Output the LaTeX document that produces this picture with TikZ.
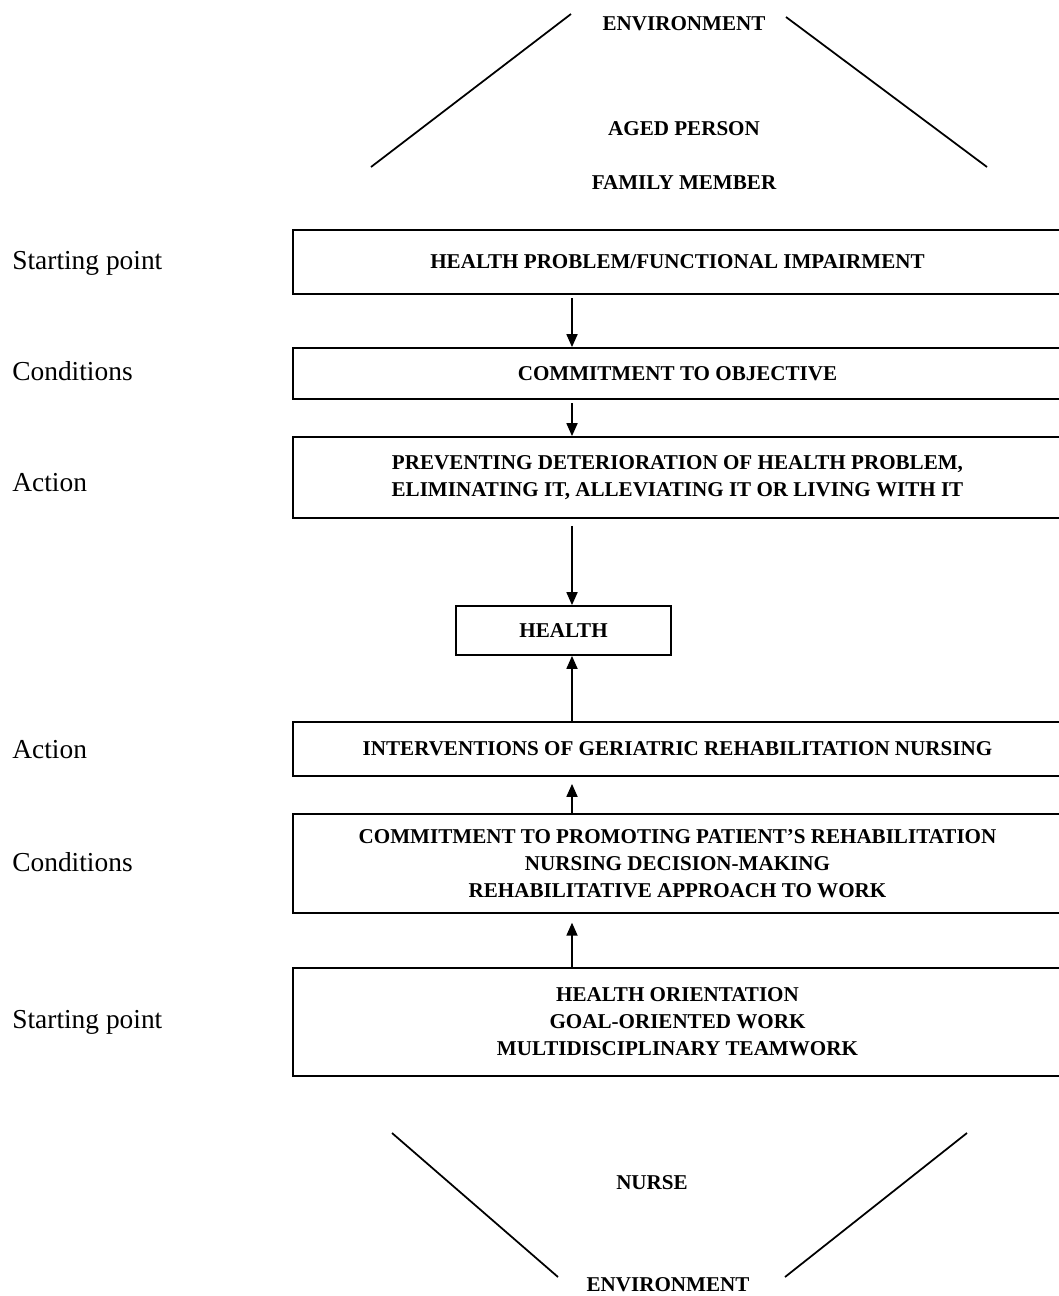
\documentclass[tikz,border=0pt]{standalone}
\usepackage{fontspec}
\setmainfont{Liberation Serif}
\usetikzlibrary{arrows.meta}

\tikzset{stage/.style={draw,line width=1pt,minimum width=15.38cm,align=center,inner sep=2pt,font=\bfseries\fontsize{12}{15.4}\selectfont}}
\tikzset{side/.style={anchor=west,inner sep=0pt,font=\fontsize{15.6}{19}\selectfont}}
\tikzset{who/.style={inner sep=1pt,font=\bfseries\fontsize{12}{14}\selectfont}}
\tikzset{flow/.style={-{Triangle[length=0.26cm,width=0.22cm]},line width=1pt}}
\tikzset{edge/.style={line width=1pt}}

\begin{document}
\begin{tikzpicture}[x=0.02cm,y=-0.02cm]
        \useasboundingbox (0,0) rectangle (1059,1296);
        % the people and their environment
        \node[who] (envtop) at (684,24) {ENVIRONMENT};
        \node[who] (aged) at (684,129) {AGED PERSON};
        \node[who] (family) at (684,183) {FAMILY MEMBER};
        \coordinate (tl) at (371,167);
        \coordinate (tr) at (987,167);
        \draw[edge] (tl) -- (571,14);
        \draw[edge] (tr) -- (786,17);
        % upper chain of boxes
        \node[stage,minimum height=1.28cm] (problem) at (677.5,262) {HEALTH PROBLEM/FUNCTIONAL IMPAIRMENT};
        \node[stage,minimum height=1.02cm] (commit) at (677.5,373.5) {COMMITMENT TO OBJECTIVE};
        \node[stage,minimum height=1.62cm] (prevent) at (677.5,477.5) {PREVENTING DETERIORATION OF HEALTH PROBLEM,\\ELIMINATING IT, ALLEVIATING IT OR LIVING WITH IT};
        \node[stage,minimum width=4.3cm,minimum height=0.98cm] (health) at (563.5,630.5) {HEALTH};
        % lower chain of boxes
        \node[stage,minimum height=1.08cm] (interv) at (677.5,749) {INTERVENTIONS OF GERIATRIC REHABILITATION NURSING};
        \node[stage,minimum height=1.98cm] (promote) at (677.5,863.5) {COMMITMENT TO PROMOTING PATIENT'S REHABILITATION\\NURSING DECISION-MAKING\\REHABILITATIVE APPROACH TO WORK};
        \node[stage,minimum height=2.16cm] (orient) at (677.5,1022) {HEALTH ORIENTATION\\GOAL-ORIENTED WORK\\MULTIDISCIPLINARY TEAMWORK};
        % labels on the left
        \node[side] (s1) at (12,263) {Starting point};
        \node[side] (c1) at (12,371) {Conditions};
        \node[side] (a1) at (12,483) {Action};
        \node[side] (a2) at (12,750) {Action};
        \node[side] (c2) at (12,862) {Conditions};
        \node[side] (s2) at (12,1022) {Starting point};
        % arrows
        \coordinate (ax) at (572,0);
        \draw[flow] ([yshift=-2pt]problem.south -| ax) -- (commit.north -| ax);
        \draw[flow] ([yshift=-2pt]commit.south -| ax) -- (prevent.north -| ax);
        \draw[flow] ([yshift=-4pt]prevent.south -| ax) -- (health.north -| ax);
        \draw[flow] (interv.north -| ax) -- (health.south -| ax);
        \draw[flow] (promote.north -| ax) -- ([yshift=-4pt]interv.south -| ax);
        \draw[flow] (orient.north -| ax) -- ([yshift=-5pt]promote.south -| ax);
        % the nurse and the environment
        \node[who] (nurse) at (652,1183) {NURSE};
        \node[who] (envbot) at (668,1285) {ENVIRONMENT};
        \coordinate (bl) at (392,1133);
        \coordinate (br) at (967,1133);
        \draw[edge] (bl) -- (558,1277);
        \draw[edge] (br) -- (785,1277);
    \end{tikzpicture}
\end{document}
